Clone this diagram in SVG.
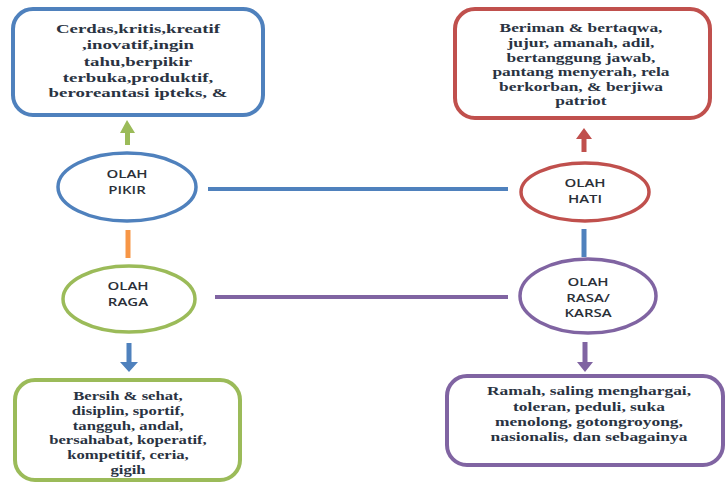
<svg xmlns="http://www.w3.org/2000/svg" width="727" height="484" viewBox="0 0 727 484">
<style>
.box{fill:#fff;stroke-width:4}
.ell{fill:#fff;stroke-width:3.5}
.bt{font-family:"Liberation Serif","Times New Roman",serif;font-size:13px;font-weight:bold;fill:#2a3342;text-anchor:middle}
.et{font-family:"Open Sans","Liberation Sans",sans-serif;font-size:10px;font-weight:600;fill:#2a2f38;text-anchor:middle}
.ln{stroke-width:4;fill:none}
</style>
<rect width="727" height="484" fill="#fff"/>
<g id="connectors">
<line class="ln" x1="208" y1="189" x2="508" y2="189" stroke="#4F81BD"/>
<line class="ln" x1="215" y1="297" x2="508" y2="297" stroke="#8064A2"/>
<line x1="128" y1="230" x2="128" y2="258" stroke="#F79646" stroke-width="5"/>
<line x1="584" y1="229" x2="584" y2="257" stroke="#4F81BD" stroke-width="5"/>
<polygon points="127,120 135,133 130,133 130,145 125,145 125,133 120,133" fill="#9BBB59"/>
<polygon points="584,128 592,139 586.5,139 586.5,152 581.5,152 581.5,139 576,139" fill="#C0504D"/>
<polygon points="126.5,343 131.5,343 131.5,362 138,362 129,372 120,362 126.5,362" fill="#4F81BD"/>
<polygon points="582.5,342 587.5,342 587.5,362 593,362 585,372 577,362 582.5,362" fill="#8064A2"/>
</g>
<g id="box-pikir">
<rect class="box" x="13" y="9" width="250" height="106" rx="20" stroke="#4F81BD"/>
<g transform="translate(138,0) scale(1.45,1)">
<text class="bt" x="0" y="33">Cerdas,kritis,kreatif</text>
<text class="bt" x="0" y="49">,inovatif,ingin</text>
<text class="bt" x="0" y="66">tahu,berpikir</text>
<text class="bt" x="0" y="82">terbuka,produktif,</text>
<text class="bt" x="0" y="97">beroreantasi ipteks, &amp;</text>
</g>
</g>
<g id="box-hati">
<rect class="box" x="455" y="9" width="255" height="109" rx="20" stroke="#C0504D"/>
<g transform="translate(581,0) scale(1.34,1)">
<text class="bt" x="0" y="32">Beriman &amp; bertaqwa,</text>
<text class="bt" x="0" y="47">jujur, amanah, adil,</text>
<text class="bt" x="0" y="62">bertanggung jawab,</text>
<text class="bt" x="0" y="76">pantang menyerah, rela</text>
<text class="bt" x="0" y="91">berkorban, &amp; berjiwa</text>
<text class="bt" x="0" y="105">patriot</text>
</g>
</g>
<g id="box-raga">
<rect class="box" x="15" y="380" width="225" height="100" rx="20" stroke="#9BBB59"/>
<g transform="translate(128,0) scale(1.28,1)">
<text class="bt" x="0" y="400">Bersih &amp; sehat,</text>
<text class="bt" x="0" y="415">disiplin, sportif,</text>
<text class="bt" x="0" y="430">tangguh, andal,</text>
<text class="bt" x="0" y="444">bersahabat, koperatif,</text>
<text class="bt" x="0" y="459">kompetitif, ceria,</text>
<text class="bt" x="0" y="474">gigih</text>
</g>
</g>
<g id="box-rasa">
<rect class="box" x="447" y="376" width="276" height="89" rx="20" stroke="#8064A2"/>
<g transform="translate(589,0) scale(1.34,1)">
<text class="bt" x="0" y="395">Ramah, saling menghargai,</text>
<text class="bt" x="0" y="411">toleran, peduli, suka</text>
<text class="bt" x="0" y="426">menolong, gotongroyong,</text>
<text class="bt" x="0" y="441">nasionalis, dan sebagainya</text>
</g>
</g>
<g id="olah-pikir">
<ellipse class="ell" cx="127" cy="187" rx="69" ry="34" stroke="#4F81BD"/>
<g transform="translate(127,0) scale(1.5,1)">
<text class="et" x="0" y="178">OLAH</text>
<text class="et" x="0" y="194">PIKIR</text>
</g>
</g>
<g id="olah-raga">
<ellipse class="ell" cx="129" cy="299" rx="66" ry="33" stroke="#9BBB59"/>
<g transform="translate(128,0) scale(1.5,1)">
<text class="et" x="0" y="290">OLAH</text>
<text class="et" x="0" y="306">RAGA</text>
</g>
</g>
<g id="olah-hati">
<ellipse class="ell" cx="585" cy="192" rx="64" ry="29" stroke="#C0504D"/>
<g transform="translate(585,0) scale(1.5,1)">
<text class="et" x="0" y="187">OLAH</text>
<text class="et" x="0" y="203">HATI</text>
</g>
</g>
<g id="olah-rasa">
<ellipse class="ell" cx="588" cy="296" rx="68" ry="37" stroke="#8064A2"/>
<g transform="translate(588,0) scale(1.5,1)">
<text class="et" x="0" y="286">OLAH</text>
<text class="et" x="0" y="302">RASA/</text>
<text class="et" x="0" y="317">KARSA</text>
</g>
</g>
</svg>
